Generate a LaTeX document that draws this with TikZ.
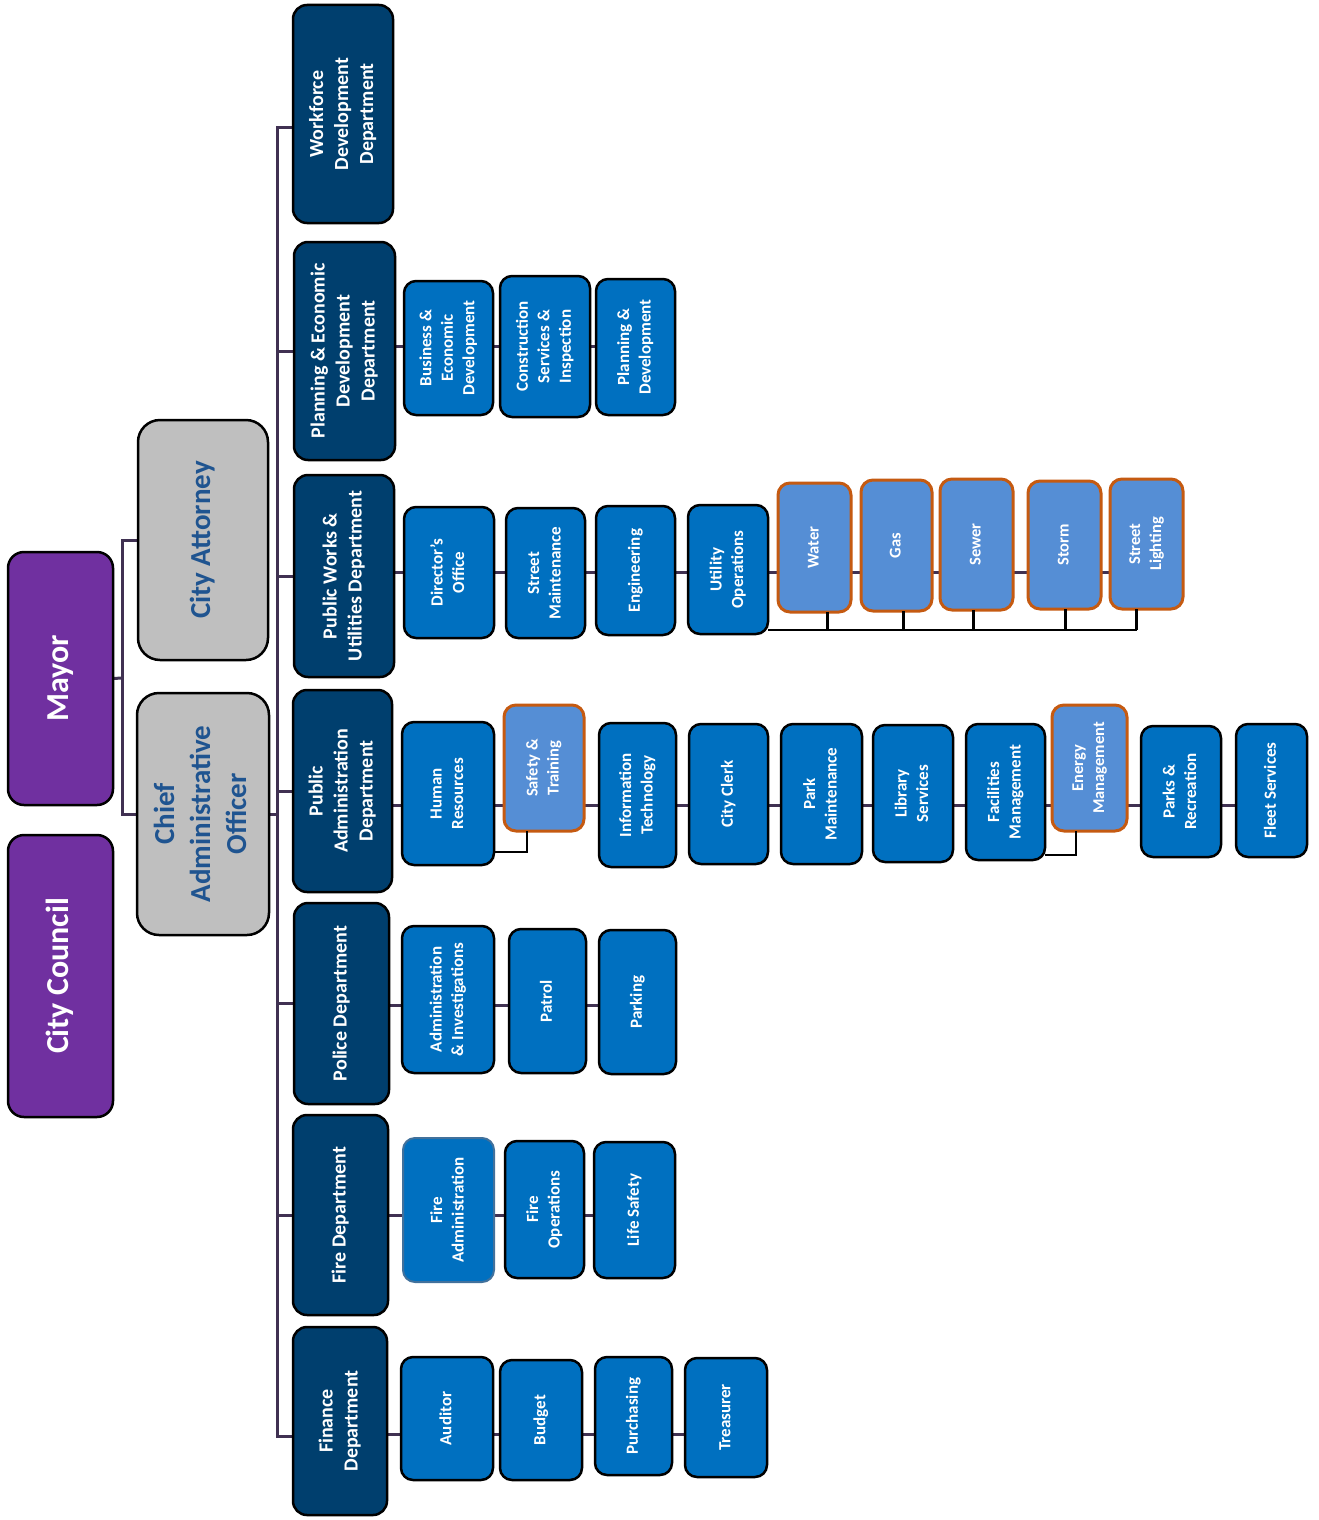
\documentclass[tikz,border=0pt]{standalone}
\usepackage{fontspec}
\setmainfont{Carlito}
\usepackage{graphicx}
\usetikzlibrary{backgrounds}
\definecolor{purp}{HTML}{7030A0}
\definecolor{grayfill}{HTML}{BFBFBF}
\definecolor{graytext}{HTML}{1F5490}
\definecolor{navy}{HTML}{003F6E}
\definecolor{subblue}{HTML}{0070C0}
\definecolor{lightblue}{HTML}{558ED5}
\definecolor{orangeb}{HTML}{C55A11}
\definecolor{fabord}{HTML}{41719C}
\definecolor{connc}{HTML}{403152}
\pgfdeclarelayer{bgzero}
\pgfsetlayers{bgzero,background,main}
\newcommand\rt[2]{\rotatebox{90}{#1\begin{tabular}{@{}c@{}}#2\end{tabular}}}
\newcommand\bigfont{\fontsize{32}{38}\selectfont}
\newcommand\grfont{\fontsize{29}{36}\selectfont}
\newcommand\dfont{\fontsize{20}{25}\selectfont}
\newcommand\sfont{\fontsize{17}{21.5}\selectfont}
\newcommand\hfont{\fontsize{16.5}{21}\selectfont}
\newcommand\bx[7]{\node[#1,minimum width={#5-#3},minimum height={#6-#4}] (#2) at ({(#3+#5)/2},{(#4+#6)/2}) {#7};}
\begin{document}
\begin{tikzpicture}[x=1pt,y=-1pt,
  boxbase/.style={draw=black,line width=2.5pt,inner sep=0pt,outer sep=0pt,font=\bfseries,text=white},
  topbox/.style={boxbase,fill=purp,rounded corners=16pt},
  graybox/.style={boxbase,fill=grayfill,rounded corners=22pt,text=graytext},
  deptbox/.style={boxbase,fill=navy,rounded corners=14pt},
  subbox/.style={boxbase,fill=subblue,rounded corners=12pt},
  hibox/.style={boxbase,fill=lightblue,draw=orangeb,line width=3pt,rounded corners=12pt},
  fabox/.style={boxbase,fill=subblue,draw=fabord,line width=2pt,rounded corners=12pt},
  conn/.style={draw=connc,line width=3pt},
  brk/.style={draw=black,line width=2.2pt}]
\begin{pgfonlayer}{bgzero}
\fill[white] (0,0) rectangle (1319,1520);
\end{pgfonlayer}
\path[use as bounding box] (0,0) rectangle (1319,1520);

% top level
\bx{topbox}{mayor}{8}{552}{113}{805}{\rt{\bigfont}{Mayor}}
\bx{topbox}{council}{8}{835}{113}{1117}{\rt{\bigfont}{City Council}}
\bx{graybox}{ca}{138}{420}{268}{660}{\rt{\grfont}{City Attorney}}
\bx{graybox}{cao}{137}{693}{269}{935}{\rt{\grfont}{Chief\\Administrative\\Officer}}

% departments
\bx{deptbox}{wf}{293}{5}{393}{223}{\rt{\dfont}{Workforce\\Development\\Department}}
\bx{deptbox}{pe}{294}{242}{395}{460}{\rt{\dfont}{Planning \& Economic\\Development\\Department}}
\bx{deptbox}{pw}{294}{475}{394}{677}{\rt{\dfont}{Public Works \&\\Utilities Department}}
\bx{deptbox}{pa}{293}{690}{392}{892}{\rt{\dfont}{Public\\Administration\\Department}}
\bx{deptbox}{pol}{294}{903}{389}{1104}{\rt{\dfont}{Police Department}}
\bx{deptbox}{fire}{293}{1115}{388}{1315}{\rt{\dfont}{Fire Department}}
\bx{deptbox}{fin}{293}{1327}{387}{1515}{\rt{\dfont}{Finance\\Department}}

% planning
\bx{subbox}{bed}{404}{281}{493}{415}{\rt{\sfont}{Business \&\\Economic\\Development}}
\bx{subbox}{csi}{500}{276}{590}{417}{\rt{\sfont}{Construction\\Services \&\\Inspection}}
\bx{subbox}{pad}{596}{279}{675}{415}{\rt{\sfont}{Planning \&\\Development}}

% public works
\bx{subbox}{dir}{404}{507}{494}{638}{\rt{\sfont}{Director’s\\Office}}
\bx{subbox}{sm}{506}{508}{585}{638}{\rt{\sfont}{Street\\Maintenance}}
\bx{subbox}{eng}{596}{506}{675}{635}{\rt{\sfont}{Engineering}}
\bx{subbox}{uo}{688}{505}{768}{634}{\rt{\sfont}{Utility\\Operations}}
\bx{hibox}{water}{778}{483}{851}{612}{\rt{\hfont}{Water}}
\bx{hibox}{gas}{861}{480}{932}{611}{\rt{\hfont}{Gas}}
\bx{hibox}{sewer}{940}{479}{1013}{610}{\rt{\hfont}{Sewer}}
\bx{hibox}{storm}{1028}{481}{1101}{609}{\rt{\hfont}{Storm}}
\bx{hibox}{sl}{1110}{479}{1183}{609}{\rt{\hfont}{Street\\Lighting}}

% public administration
\bx{subbox}{hr}{402}{722}{494}{865}{\rt{\sfont}{Human\\Resources}}
\bx{hibox}{st}{504}{705}{584}{831}{\rt{\hfont}{Safety \&\\Training}}
\bx{subbox}{it}{599}{723}{676}{867}{\rt{\sfont}{Information\\Technology}}
\bx{subbox}{cc}{689}{724}{768}{864}{\rt{\sfont}{City Clerk}}
\bx{subbox}{pm}{781}{724}{862}{864}{\rt{\sfont}{Park\\Maintenance}}
\bx{subbox}{ls}{873}{725}{953}{862}{\rt{\sfont}{Library\\Services}}
\bx{subbox}{fm}{966}{724}{1045}{860}{\rt{\sfont}{Facilities\\Management}}
\bx{hibox}{em}{1052}{705}{1127}{831}{\rt{\hfont}{Energy\\Management}}
\bx{subbox}{pr}{1141}{726}{1221}{857}{\rt{\sfont}{Parks \&\\Recreation}}
\bx{subbox}{fs}{1236}{724}{1307}{857}{\rt{\sfont}{Fleet Services}}

% police
\bx{subbox}{ai}{402}{926}{494}{1073}{\rt{\sfont}{Administration\\\& Investigations}}
\bx{subbox}{pat}{509}{929}{586}{1073}{\rt{\sfont}{Patrol}}
\bx{subbox}{park}{599}{930}{676}{1074}{\rt{\sfont}{Parking}}

% fire
\bx{fabox}{fa}{403}{1138}{494}{1282}{\rt{\sfont}{Fire\\Administration}}
\bx{subbox}{fo}{505}{1141}{584}{1278}{\rt{\sfont}{Fire\\Operations}}
\bx{subbox}{lsf}{594}{1142}{675}{1278}{\rt{\sfont}{Life Safety}}

% finance
\bx{subbox}{aud}{401}{1357}{493}{1480}{\rt{\sfont}{Auditor}}
\bx{subbox}{bud}{500}{1360}{582}{1480}{\rt{\sfont}{Budget}}
\bx{subbox}{pur}{595}{1357}{672}{1475}{\rt{\sfont}{Purchasing}}
\bx{subbox}{tre}{685}{1358}{767}{1477}{\rt{\sfont}{Treasurer}}

% connectors (behind boxes)
\begin{pgfonlayer}{background}
\coordinate (mb) at (122,678);
\draw[conn] (mayor.east) -- (mb);
\draw[conn] (ca.west) -| (mb) |- (cao.west);
\coordinate (tk) at (277,0);
\coordinate (wfc) at ([yshift=-13pt]wf.west);
\coordinate (finc) at ([yshift=-15pt]fin.west);
\draw[conn] (wfc) -- (wfc -| tk) -- (finc -| tk) -- (finc);
\foreach \n in {pe,pw,pa,pol,fire} \draw[conn] (\n.west) -- (\n.west -| tk);
\draw[conn] (cao.east) -- (cao.east -| tk);
\coordinate (r1) at (0,346);
\coordinate (r2) at (0,572);
\coordinate (r3) at (0,805);
\coordinate (r4) at (0,1005);
\coordinate (r5) at (0,1215);
\coordinate (r6) at (0,1434);
\draw[conn] (pe.east |- r1) -- (pad.west |- r1);
\draw[conn] (pw.east |- r2) -- (sl.west |- r2);
\draw[conn] (pa.east |- r3) -- (fs.west |- r3);
\draw[conn] (pol.east |- r4) -- (park.west |- r4);
\draw[conn] (fire.east |- r5) -- (lsf.west |- r5);
\draw[conn] (fin.east |- r6) -- (tre.west |- r6);
\end{pgfonlayer}

% brackets
\coordinate (ub) at (0,630);
\coordinate (t1) at ([xshift=13pt]water.south);
\coordinate (t2) at ([xshift=7pt]gas.south);
\coordinate (t3) at ([xshift=-3pt]sewer.south);
\coordinate (t4) at ([xshift=1pt]storm.south);
\coordinate (t5) at ([xshift=-10pt]sl.south);
\draw[brk] (uo.east |- ub) -- (t5 |- ub);
\foreach \t in {t1,t2,t3,t4,t5} \draw[brk] (\t) -- (\t |- ub);
\coordinate (hb) at (0,852);
\coordinate (t6) at ([xshift=-17pt]st.south);
\draw[brk] (hr.east |- hb) -| (t6);
\coordinate (fb) at (0,855);
\coordinate (t7) at ([xshift=-13.5pt]em.south);
\draw[brk] (fm.east |- fb) -| (t7);
\end{tikzpicture}
\end{document}
